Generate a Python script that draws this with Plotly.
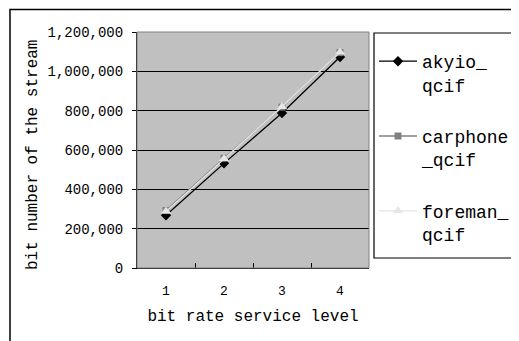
import plotly.graph_objects as go

levels = ["1", "2", "3", "4"]
akyio = [268000, 532000, 788000, 1073000]
carphone = [292000, 558000, 818000, 1095000]
foreman = [288000, 555000, 820000, 1097000]
y_ticks = [0, 200000, 400000, 600000, 800000, 1000000, 1200000]
y_tick_text = ["0", "200,000", "400,000", "600,000", "800,000", "1,000,000", "1,200,000"]

FONT = "Liberation Mono, DejaVu Sans Mono, monospace"

fig = go.Figure()
fig.add_trace(go.Scatter(x=levels, y=akyio, name="akyio_<br>qcif", mode="lines+markers",
                         legendgroup="a",
                         line=dict(color="black", width=1.3),
                         marker=dict(symbol="diamond", size=8, color="black")))
fig.add_trace(go.Scatter(x=levels, y=carphone, name="carphone<br>_qcif", mode="lines+markers",
                         legendgroup="b",
                         line=dict(color="#808080", width=1.3),
                         marker=dict(symbol="square", size=7, color="#808080")))
fig.add_trace(go.Scatter(x=levels, y=foreman, name="foreman_<br>qcif", mode="lines+markers",
                         legendgroup="c",
                         line=dict(color="#e6e6e6", width=1.3),
                         marker=dict(symbol="triangle-up", size=9, color="#e6e6e6")))

OFF = 8  # page body margin
W, H = 519, 341
L, T = 137 - OFF, 32 - OFF
R = W - (369 - OFF)
B = H - (268 - OFF)
pw, ph = W - L - R, H - T - B

def px(x):
    return (x - OFF - L) / pw

def py(y):
    return (H - B - (y - OFF)) / ph

fig.update_layout(
    width=W, height=H,
    margin=dict(l=L, r=R, t=T, b=B, autoexpand=False),
    paper_bgcolor="white",
    plot_bgcolor="#c0c0c0",
    font=dict(family=FONT, color="black", size=14),
    showlegend=True,
    legend=dict(x=px(374), y=py(43), xanchor="left", yanchor="top",
                borderwidth=0, bgcolor="rgba(0,0,0,0)",
                font=dict(size=18, family=FONT), tracegroupgap=25,
                valign="top", itemwidth=38),
    xaxis=dict(type="category", range=[-0.5, 3.5], showgrid=False,
               showline=True, linecolor="black", linewidth=1,
               ticks="inside", tickson="boundaries", ticklen=5, tickcolor="black",
               tickfont=dict(size=13), ticklabelstandoff=10,
               title=dict(text="bit rate service level", font=dict(size=16), standoff=12)),
    yaxis=dict(range=[0, 1200000], tickvals=y_ticks, ticktext=y_tick_text,
               showgrid=True, gridcolor="black", gridwidth=1,
               showline=True, linecolor="black", linewidth=1,
               ticks="outside", ticklen=4, tickcolor="black",
               tickfont=dict(size=14), ticklabelstandoff=6),
    annotations=[
        dict(text="bit number of the stream", textangle=-90, showarrow=False,
             xref="paper", yref="paper", x=px(33), y=py(155),
             xanchor="center", yanchor="middle", font=dict(size=16)),
    ],
    shapes=[
        dict(type="rect", xref="paper", yref="paper", x0=0, x1=1, y0=0, y1=1,
             line=dict(color="#808080", width=1), layer="above"),
        dict(type="rect", xref="paper", yref="paper",
             x0=px(10), x1=px(525), y0=py(9.5), y1=py(348),
             line=dict(color="black", width=1.5)),
        dict(type="rect", xref="paper", yref="paper",
             x0=px(374), x1=px(514), y0=py(33), y1=py(258),
             line=dict(color="black", width=1.2)),
    ],
)

fig.write_html("out.html")
